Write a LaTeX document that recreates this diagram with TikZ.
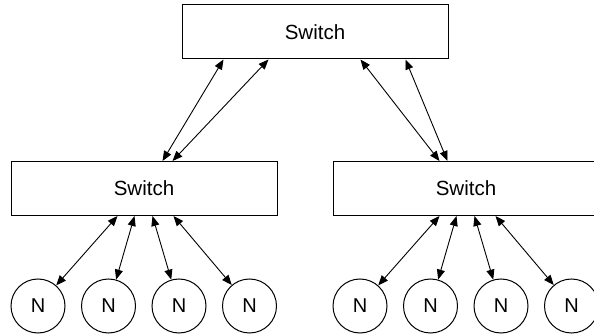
\documentclass[tikz,border=0pt]{standalone}
\usepackage{fontspec}
\setmainfont{Liberation Sans}
\usetikzlibrary{arrows.meta,calc}
\begin{document}
\begin{tikzpicture}[x=1pt,y=-1pt,
  switchbox/.style={draw, line width=1pt, minimum width=266pt, minimum height=54pt, inner sep=0pt, font=\fontsize{20.5}{24}\selectfont, fill=white},
  nodecirc/.style={draw, circle, line width=1pt, minimum size=54pt, inner sep=0pt, font=\fontsize{20}{24}\selectfont},
  link/.style={line width=0.9pt, {Triangle[length=10pt,width=8pt]}-{Triangle[length=10pt,width=8pt]}}]
\clip (0,0) rectangle (594,336);
\useasboundingbox (0,0) rectangle (594,336);
\node[switchbox] (top) at (315,32) {Switch};
\node[switchbox] (ls) at (144,188.5) {Switch};
\node[switchbox] (rs) at (466,188.5) {Switch};
% leaf nodes
\foreach \i/\dx in {1/27.5,2/98,3/168.5,4/239}{
  \node[nodecirc] (l\i) at ($(ls.south west)+(\dx,90)$) {N};
  \node[nodecirc] (r\i) at ($(rs.south west)+(\dx,90)$) {N};
}
% top links
\coordinate (t1) at ($(top.south west)+(42,0)$);
\coordinate (t2) at ($(top.south west)+(87,0)$);
\coordinate (t3) at ($(top.south west)+(179,0)$);
\coordinate (t4) at ($(top.south west)+(224,0)$);
\coordinate (lt1) at ($(ls.north west)+(152,0)$);
\coordinate (lt2) at ($(ls.north west)+(162,0)$);
\coordinate (rt1) at ($(rs.north west)+(107,0)$);
\coordinate (rt2) at ($(rs.north west)+(115,0)$);
\draw[link] (t1) -- (lt1);
\draw[link] (t2) -- (lt2);
\draw[link] (t3) -- (rt1);
\draw[link] (t4) -- (rt2);
% leaf links
\foreach \i/\dx in {1/107,2/124,3/142,4/163}{
  \coordinate (lb\i) at ($(ls.south west)+(\dx,0)$);
  \coordinate (rb\i) at ($(rs.south west)+(\dx,0)$);
  \draw[link] (lb\i) -- (l\i);
  \draw[link] (rb\i) -- (r\i);
}
\end{tikzpicture}
\end{document}
